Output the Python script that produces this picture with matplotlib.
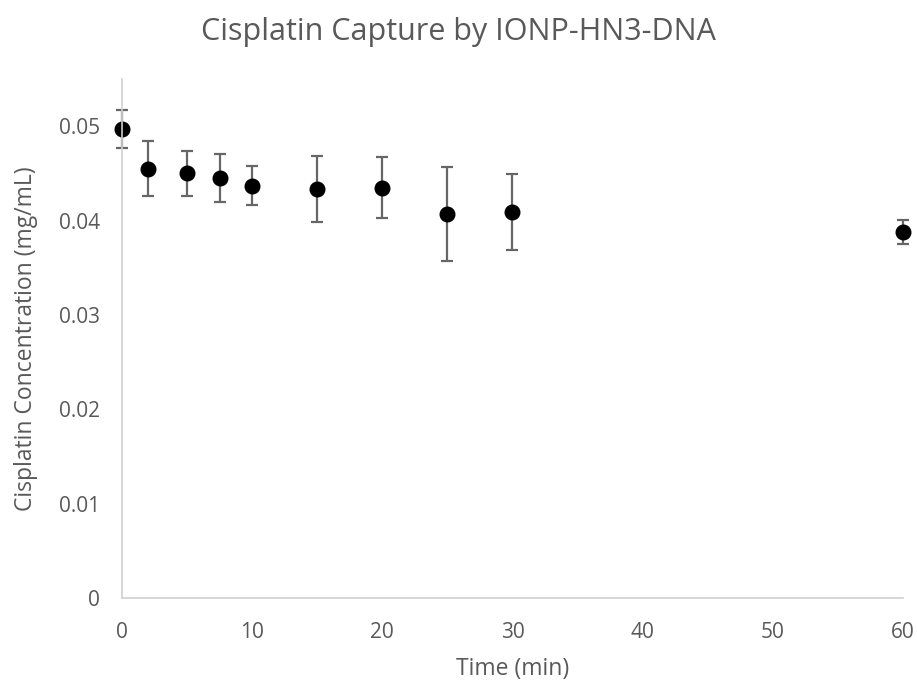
import matplotlib
matplotlib.use("Agg")
import matplotlib.pyplot as plt

plt.rcParams['font.family'] = ['Open Sans', 'DejaVu Sans']

time_min = [0, 2, 5, 7.5, 10, 15, 20, 25, 30, 60]
conc = [0.0497, 0.0455, 0.0450, 0.0445, 0.0437, 0.0433, 0.0435, 0.0407, 0.0409, 0.0388]
err = [0.0020, 0.0029, 0.0024, 0.0025, 0.0021, 0.0035, 0.0032, 0.0050, 0.0040, 0.0013]

xticks = [0, 10, 20, 30, 40, 50, 60]
yticks = [0, 0.01, 0.02, 0.03, 0.04, 0.05]
ytick_labels = ['0', '0.01', '0.02', '0.03', '0.04', '0.05']

grey = '#595959'

fig = plt.figure(figsize=(9.17, 6.81), dpi=100)
ax = fig.add_axes([0.133, 0.1218, 0.8517, 0.7622])

eb = ax.errorbar(time_min, conc, yerr=err, fmt='o', color='black', markersize=10.5,
                 ecolor='#666666', elinewidth=1.6, capsize=4.5, capthick=1.6)
for artist in eb.lines[0:1] + tuple(eb.lines[1]) + tuple(eb.lines[2]):
    artist.set_clip_on(False)

ax.set_xlim(0, 60)
ax.set_ylim(0, 0.055)
ax.set_xticks(xticks)
ax.set_yticks(yticks)
ax.set_yticklabels(ytick_labels)
ax.tick_params(length=0, labelsize=15, colors=grey)
ax.tick_params(axis='x', pad=17)
ax.tick_params(axis='y', pad=16)

for side in ['top', 'right']:
    ax.spines[side].set_visible(False)
for side in ['left', 'bottom']:
    ax.spines[side].set_color('#d0d0d0')
    ax.spines[side].set_linewidth(1.2)

ax.set_xlabel('Time (min)', fontsize=16.5, color=grey, labelpad=10)
ax.set_ylabel('Cisplatin Concentration (mg/mL)', fontsize=16.5, color=grey, labelpad=15)
fig.suptitle('Cisplatin Capture by IONP-HN3-DNA', fontsize=22, color=grey, y=0.975)

fig.savefig('out.png', dpi=100)
